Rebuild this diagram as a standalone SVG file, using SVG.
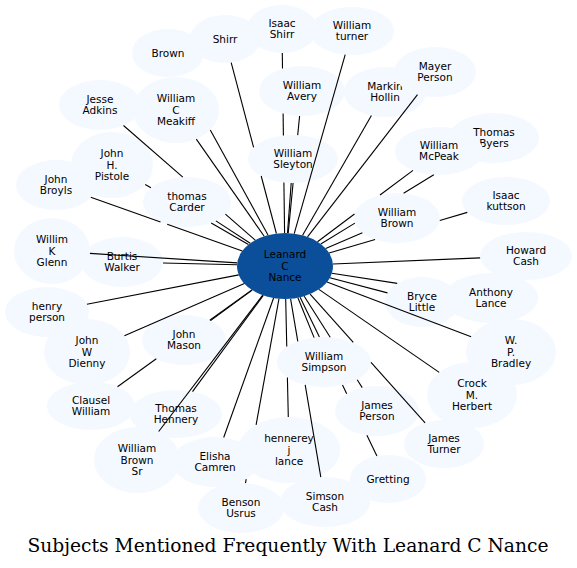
<svg xmlns="http://www.w3.org/2000/svg" width="577" height="568" viewBox="0 0 577 568">
<style>
.node ellipse{fill:#f4f8ff;stroke:none}
.node text{font-family:"DejaVu Sans",sans-serif;font-size:10.5px;fill:#000;text-anchor:middle}
#n-center ellipse{fill:#0b4f9a}
#connectors line{stroke:#000;stroke-width:1.1;fill:none}
.title{font-family:"DejaVu Serif",serif;font-size:18px;fill:#000;text-anchor:middle}
</style>
<rect width="577" height="568" fill="#fff"/>
<g id="n-center" class="node"><ellipse cx="285" cy="266" rx="48" ry="33"/><text><tspan x="285" y="258.2">Leanard</tspan><tspan x="285" y="269.7">C</tspan><tspan x="285" y="281.2">Nance</tspan></text></g>
<g id="n-brown" class="node"><ellipse cx="168" cy="53" rx="36" ry="24"/><text><tspan x="168" y="56.7">Brown</tspan></text></g>
<g id="n-meakiff" class="node"><ellipse cx="176" cy="110" rx="43" ry="33"/><text><tspan x="176" y="102.2">William</tspan><tspan x="176" y="113.7">C</tspan><tspan x="176" y="125.2">Meakiff</tspan></text></g>
<g id="n-shirr" class="node"><ellipse cx="225" cy="39" rx="35" ry="24"/><text><tspan x="225" y="42.7">Shirr</tspan></text></g>
<g id="n-isaacshirr" class="node"><ellipse cx="282" cy="29" rx="35" ry="24"/><text><tspan x="282" y="26.95">Isaac</tspan><tspan x="282" y="38.45">Shirr</tspan></text></g>
<g id="n-avery" class="node"><ellipse cx="302" cy="91" rx="43" ry="25"/><text><tspan x="302" y="88.95">William</tspan><tspan x="302" y="100.45">Avery</tspan></text></g>
<g id="n-sleyton" class="node"><ellipse cx="293" cy="159" rx="45" ry="24"/><text><tspan x="293" y="156.95">William</tspan><tspan x="293" y="168.45">Sleyton</tspan></text></g>
<g id="n-turner" class="node"><ellipse cx="352" cy="31" rx="42" ry="24"/><text><tspan x="352" y="28.95">William</tspan><tspan x="352" y="40.45">turner</tspan></text></g>
<g id="n-markin" class="node"><ellipse cx="385" cy="92" rx="41" ry="25"/><text><tspan x="385" y="89.95">Markin</tspan><tspan x="385" y="101.45">Hollin</tspan></text></g>
<g id="n-mayer" class="node"><ellipse cx="435" cy="72" rx="41" ry="25"/><text><tspan x="435" y="69.95">Mayer</tspan><tspan x="435" y="81.45">Person</tspan></text></g>
<g id="n-jesse" class="node"><ellipse cx="100" cy="105" rx="41" ry="25"/><text><tspan x="100" y="102.95">Jesse</tspan><tspan x="100" y="114.45">Adkins</tspan></text></g>
<g id="n-pistole" class="node"><ellipse cx="112" cy="165" rx="41" ry="33"/><text><tspan x="112" y="157.2">John</tspan><tspan x="112" y="168.7">H.</tspan><tspan x="112" y="180.2">Pistole</tspan></text></g>
<g id="n-broyls" class="node"><ellipse cx="56" cy="185" rx="40" ry="25"/><text><tspan x="56" y="182.95">John</tspan><tspan x="56" y="194.45">Broyls</tspan></text></g>
<g id="n-carder" class="node"><ellipse cx="187" cy="202" rx="44" ry="25"/><text><tspan x="187" y="199.95">thomas</tspan><tspan x="187" y="211.45">Carder</tspan></text></g>
<g id="n-byers" class="node"><ellipse cx="494" cy="138" rx="45" ry="25"/><text><tspan x="494" y="135.95">Thomas</tspan><tspan x="494" y="147.45">Byers</tspan></text></g>
<g id="n-mcpeak" class="node"><ellipse cx="439" cy="151" rx="44" ry="24"/><text><tspan x="439" y="148.95">William</tspan><tspan x="439" y="160.45">McPeak</tspan></text></g>
<g id="n-kuttson" class="node"><ellipse cx="506" cy="201" rx="44" ry="24"/><text><tspan x="506" y="198.95">Isaac</tspan><tspan x="506" y="210.45">kuttson</tspan></text></g>
<g id="n-wbrown" class="node"><ellipse cx="397" cy="218" rx="43" ry="25"/><text><tspan x="397" y="215.95">William</tspan><tspan x="397" y="227.45">Brown</tspan></text></g>
<g id="n-howard" class="node"><ellipse cx="526" cy="256" rx="46" ry="24"/><text><tspan x="526" y="253.95">Howard</tspan><tspan x="526" y="265.45">Cash</tspan></text></g>
<g id="n-burtis" class="node"><ellipse cx="122" cy="262" rx="41" ry="25"/><text><tspan x="122" y="259.95">Burtis</tspan><tspan x="122" y="271.45">Walker</tspan></text></g>
<g id="n-glenn" class="node"><ellipse cx="52" cy="251" rx="38" ry="33"/><text><tspan x="52" y="243.2">Willim</tspan><tspan x="52" y="254.7">K</tspan><tspan x="52" y="266.2">Glenn</tspan></text></g>
<g id="n-henry" class="node"><ellipse cx="47" cy="312" rx="42" ry="25"/><text><tspan x="47" y="309.95">henry</tspan><tspan x="47" y="321.45">person</tspan></text></g>
<g id="n-clausel" class="node"><ellipse cx="91" cy="406" rx="44" ry="24"/><text><tspan x="91" y="403.95">Clausel</tspan><tspan x="91" y="415.45">William</tspan></text></g>
<g id="n-mason" class="node"><ellipse cx="184" cy="340" rx="42" ry="25"/><text><tspan x="184" y="337.95">John</tspan><tspan x="184" y="349.45">Mason</tspan></text></g>
<g id="n-dienny" class="node"><ellipse cx="87" cy="352" rx="43" ry="33"/><text><tspan x="87" y="344.2">John</tspan><tspan x="87" y="355.7">W</tspan><tspan x="87" y="367.2">Dienny</tspan></text></g>
<g id="n-hennery" class="node"><ellipse cx="176" cy="414" rx="46" ry="24"/><text><tspan x="176" y="411.95">Thomas</tspan><tspan x="176" y="423.45">Hennery</tspan></text></g>
<g id="n-wbrownsr" class="node"><ellipse cx="137" cy="460" rx="43" ry="33"/><text><tspan x="137" y="452.2">William</tspan><tspan x="137" y="463.7">Brown</tspan><tspan x="137" y="475.2">Sr</tspan></text></g>
<g id="n-benson" class="node"><ellipse cx="241" cy="508" rx="43" ry="25"/><text><tspan x="241" y="505.95">Benson</tspan><tspan x="241" y="517.45">Usrus</tspan></text></g>
<g id="n-elisha" class="node"><ellipse cx="215" cy="462" rx="43" ry="25"/><text><tspan x="215" y="459.95">Elisha</tspan><tspan x="215" y="471.45">Camren</tspan></text></g>
<g id="n-hennerey" class="node"><ellipse cx="289" cy="450" rx="51" ry="33"/><text><tspan x="289" y="442.2">hennerey</tspan><tspan x="289" y="453.7">j</tspan><tspan x="289" y="465.2">lance</tspan></text></g>
<g id="n-simsoncash" class="node"><ellipse cx="325" cy="502" rx="45" ry="25"/><text><tspan x="325" y="499.95">Simson</tspan><tspan x="325" y="511.45">Cash</tspan></text></g>
<g id="n-gretting" class="node"><ellipse cx="388" cy="479" rx="38" ry="24"/><text><tspan x="388" y="482.7">Gretting</tspan></text></g>
<g id="n-jperson" class="node"><ellipse cx="377" cy="411" rx="42" ry="25"/><text><tspan x="377" y="408.95">James</tspan><tspan x="377" y="420.45">Person</tspan></text></g>
<g id="n-jturner" class="node"><ellipse cx="444" cy="444" rx="40" ry="24"/><text><tspan x="444" y="441.95">James</tspan><tspan x="444" y="453.45">Turner</tspan></text></g>
<g id="n-simpson" class="node"><ellipse cx="324" cy="362" rx="47" ry="25"/><text><tspan x="324" y="359.95">William</tspan><tspan x="324" y="371.45">Simpson</tspan></text></g>
<g id="n-crock" class="node"><ellipse cx="472" cy="395" rx="45" ry="33"/><text><tspan x="472" y="387.2">Crock</tspan><tspan x="472" y="398.7">M.</tspan><tspan x="472" y="410.2">Herbert</tspan></text></g>
<g id="n-anthony" class="node"><ellipse cx="491" cy="298" rx="47" ry="25"/><text><tspan x="491" y="295.95">Anthony</tspan><tspan x="491" y="307.45">Lance</tspan></text></g>
<g id="n-bryce" class="node"><ellipse cx="422" cy="302" rx="37" ry="25"/><text><tspan x="422" y="299.95">Bryce</tspan><tspan x="422" y="311.45">Little</tspan></text></g>
<g id="n-bradley" class="node"><ellipse cx="511" cy="352" rx="45" ry="33"/><text><tspan x="511" y="344.2">W.</tspan><tspan x="511" y="355.7">P.</tspan><tspan x="511" y="367.2">Bradley</tspan></text></g>
<g id="connectors">
<line x1="210.3" y1="129.9" x2="268" y2="235.1"/>
<line x1="231.2" y1="62.6" x2="253.6" y2="147.4"/>
<line x1="261.2" y1="176" x2="276.4" y2="233.5"/>
<line x1="282.3" y1="53" x2="282.5" y2="68.6"/>
<line x1="283.1" y1="113.4" x2="283.4" y2="135.5"/>
<line x1="283.9" y1="182.5" x2="284.6" y2="233"/>
<line x1="345.2" y1="54.7" x2="294.2" y2="233.6"/>
<line x1="299.6" y1="116" x2="297.7" y2="135.1"/>
<line x1="293.1" y1="183" x2="288.2" y2="233.1"/>
<line x1="371.4" y1="115.6" x2="302.6" y2="235.3"/>
<line x1="417.5" y1="94.6" x2="307.5" y2="236.9"/>
<line x1="291.2" y1="183" x2="287.5" y2="233"/>
<line x1="123.5" y1="125.5" x2="182.8" y2="177.1"/>
<line x1="225.4" y1="214.2" x2="255.2" y2="240.1"/>
<line x1="196.3" y1="139.1" x2="264.2" y2="236.3"/>
<line x1="145.2" y1="184.4" x2="150.9" y2="187.7"/>
<line x1="211.2" y1="222.9" x2="248.4" y2="244.6"/>
<line x1="90.8" y1="197.3" x2="160.5" y2="222"/>
<line x1="167.2" y1="224.3" x2="242.3" y2="250.9"/>
<line x1="215.9" y1="220.9" x2="250.2" y2="243.3"/>
<line x1="413" y1="170.4" x2="380" y2="195"/>
<line x1="354.5" y1="214" x2="317.5" y2="241.7"/>
<line x1="433.8" y1="174.8" x2="403.6" y2="193.3"/>
<line x1="354.9" y1="223.1" x2="320.8" y2="244"/>
<line x1="467.3" y1="212.4" x2="439.8" y2="220.5"/>
<line x1="375.1" y1="239.5" x2="329.1" y2="253"/>
<line x1="362.4" y1="232.8" x2="325.7" y2="248.5"/>
<line x1="480.1" y1="257.9" x2="332.9" y2="264"/>
<line x1="89.9" y1="253.4" x2="237.2" y2="262.9"/>
<line x1="163" y1="263" x2="237" y2="264.8"/>
<line x1="86.9" y1="304.3" x2="238.8" y2="274.9"/>
<line x1="124.4" y1="335.7" x2="244.4" y2="283.6"/>
<line x1="210.5" y1="320.6" x2="252.2" y2="290.1"/>
<line x1="117.5" y1="386.8" x2="156.3" y2="358.8"/>
<line x1="209.8" y1="320.3" x2="251.9" y2="289.9"/>
<line x1="192.5" y1="391.6" x2="263.3" y2="295.4"/>
<line x1="158.7" y1="431.5" x2="262.7" y2="295.2"/>
<line x1="223.7" y1="437.5" x2="273.6" y2="298"/>
<line x1="288.3" y1="417" x2="287.4" y2="377.4"/>
<line x1="286.75" y1="346.6" x2="285.7" y2="299"/>
<line x1="245.5" y1="483.1" x2="246.2" y2="479.2"/>
<line x1="256.1" y1="424.8" x2="279" y2="298.7"/>
<line x1="314.1" y1="337.6" x2="297.9" y2="297.8"/>
<line x1="320.8" y1="477.1" x2="305.2" y2="384.9"/>
<line x1="297.8" y1="341.3" x2="290.6" y2="298.8"/>
<line x1="376.9" y1="456" x2="366.9" y2="435.3"/>
<line x1="346.7" y1="393.7" x2="342.5" y2="385"/>
<line x1="319.4" y1="337.1" x2="300.1" y2="297.3"/>
<line x1="362.2" y1="387.6" x2="357.2" y2="379.7"/>
<line x1="330.2" y1="337.2" x2="304.2" y2="296.2"/>
<line x1="425.1" y1="422.9" x2="371" y2="362.3"/>
<line x1="353.3" y1="342.4" x2="310.1" y2="294.1"/>
<line x1="439.2" y1="372.4" x2="318.9" y2="289.4"/>
<line x1="471.1" y1="336.8" x2="327" y2="282"/>
<line x1="397.2" y1="283.4" x2="331.8" y2="273.3"/>
<line x1="387.5" y1="292.9" x2="329.8" y2="277.8"/>
</g>
<text class="title" x="288" y="552" textLength="521" lengthAdjust="spacingAndGlyphs">Subjects Mentioned Frequently With Leanard C Nance</text>
</svg>
